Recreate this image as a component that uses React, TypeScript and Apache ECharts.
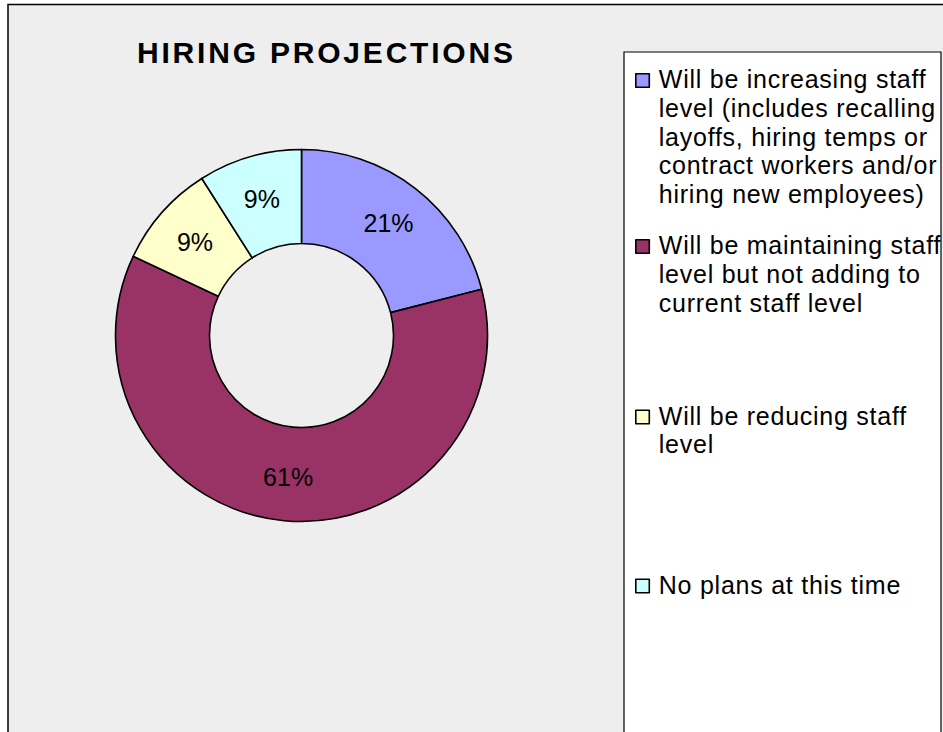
import { useEffect, useRef } from 'react';
import * as echarts from 'echarts';

// ---- data ----
const categories = [
  'Will be increasing staff\nlevel (includes recalling\nlayoffs, hiring temps or\ncontract workers and/or\nhiring new employees)',
  'Will be maintaining staff\nlevel but not adding to\ncurrent staff level',
  'Will be reducing staff\nlevel',
  'No plans at this time',
];
const values = [21, 61, 9, 9];
const colors = ['#9999FF', '#993366', '#FFFFCC', '#CCFFFF'];
const titleText = 'HIRING PROJECTIONS';

// ---- layout / style ----
const LINE_H = 28.7;
const legendTops = [64, 230, 400.5, 569.5];
const TITLE_FONT = 'Liberation Sans, Arial, sans-serif;letter-spacing:2.8px';
const LEGEND_FONT = 'Liberation Sans, Arial, sans-serif;letter-spacing:0.75px';

export default function App() {
  const ref = useRef<HTMLDivElement>(null);

  useEffect(() => {
    const el = ref.current;
    if (!el) return;
    const chart = echarts.init(el, undefined, { renderer: 'svg' });

    const legends = categories.map((name, i) => {
      const lines = name.split('\n').length;
      const h = lines * LINE_H;
      return {
        data: [name],
        orient: 'vertical',
        left: 635,
        top: legendTops[i],
        padding: 0,
        itemWidth: 18,
        itemHeight: h,
        icon: `path://M0,0M0,9h13.5v13.5h-13.5zM18,${h}`,
        selectedMode: false,
        itemStyle: { borderColor: '#000', borderWidth: 1.6 },
        textStyle: {
          fontSize: 25,
          fontFamily: LEGEND_FONT,
          color: '#000',
          lineHeight: LINE_H,
        },
      };
    });

    chart.setOption({
      animation: false,
      backgroundColor: '#ffffff',
      title: {
        text: titleText,
        left: 137,
        top: 35,
        padding: 0,
        textStyle: {
          fontSize: 30,
          fontWeight: 'bold',
          fontFamily: TITLE_FONT,
          color: '#000',
          lineHeight: 34,
        },
      },
      legend: legends,
      graphic: [
        {
          type: 'rect',
          z: -10,
          shape: { x: 8, y: 4.5, width: 960, height: 760 },
          style: { fill: '#EEEEEE', stroke: '#000', lineWidth: 1.5 },
        },
        {
          type: 'rect',
          z: -5,
          shape: { x: 624, y: 52, width: 317, height: 720 },
          style: { fill: '#FFFFFF', stroke: '#000', lineWidth: 1.2 },
        },
      ],
      series: [
        {
          type: 'pie',
          center: [301.5, 335.5],
          radius: [92, 186],
          startAngle: 90,
          clockwise: true,
          avoidLabelOverlap: false,
          label: {
            show: true,
            position: 'inside',
            formatter: '{c}%',
            fontSize: 25,
            fontFamily: 'Liberation Sans, Arial, sans-serif',
            color: '#000',
          },
          labelLine: { show: false },
          itemStyle: { borderColor: '#000', borderWidth: 1.6 },
          emphasis: { disabled: true },
          data: categories.map((name, i) => ({
            name,
            value: values[i],
            itemStyle: { color: colors[i] },
          })),
        },
      ],
    });

    return () => {
      chart.dispose();
    };
  }, []);

  return (
    <div
      ref={ref}
      style={{ position: 'absolute', left: 0, top: 0, width: 943, height: 732 }}
    />
  );
}
